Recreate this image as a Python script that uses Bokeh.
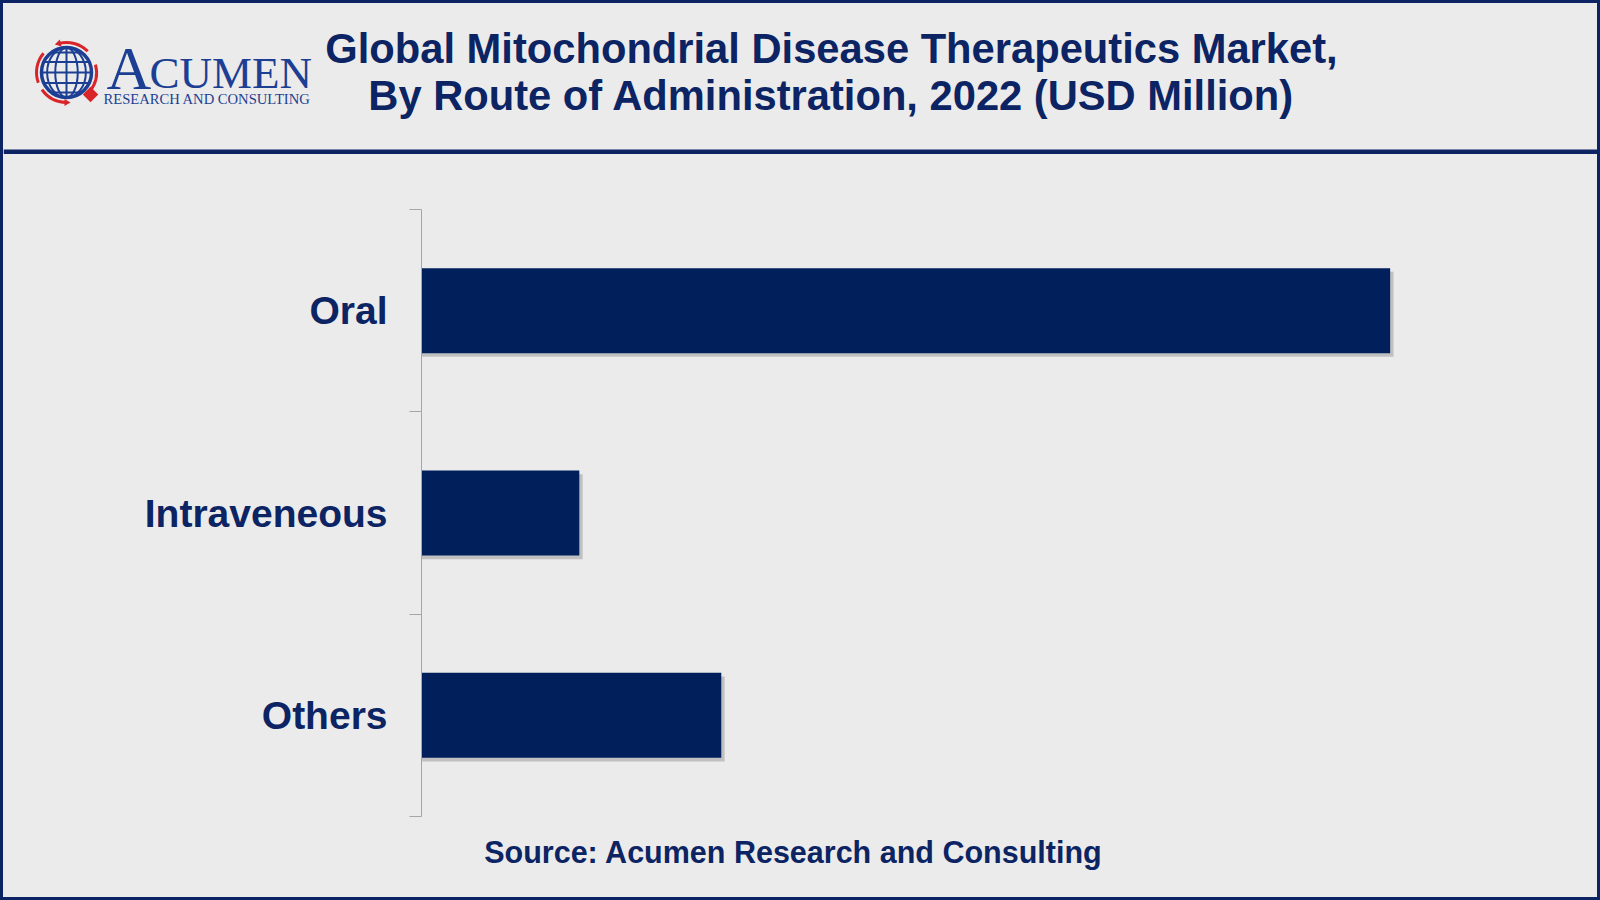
import math
from bokeh.plotting import figure
from bokeh.layouts import column, row
from bokeh.models import Range1d, FixedTicker, ColumnDataSource
from bokeh.core.properties import value
from bokeh.embed import file_html
from bokeh.resources import INLINE

# ---------------- data ----------------
title_lines = ["Global Mitochondrial Disease Therapeutics Market,",
               "By Route of Administration, 2022 (USD Million)"]
categories = ["Oral", "Intraveneous", "Others"]
values_usd_mn = [1160, 189, 359]
source_text = "Source: Acumen Research and Consulting"
logo_initial = "A"
logo_rest = "CUMEN"
logo_tagline = "RESEARCH AND CONSULTING"

# ---------------- styles ----------------
BG = "#EBEBEB"
NAVY = "#0C2463"
BAR = "#001F5B"
LOGO_BLUE = "#1C3F94"
RED = "#D9252A"
BORDER = "#0D2464"
W = 1594
H_HEAD, H_CHART, H_FOOT = 151, 672, 71
X_END = 1364


def blank(height, yr):
    f = figure(width=W, height=height, x_range=Range1d(0, W), y_range=Range1d(0, yr),
               output_backend="svg", toolbar_location=None,
               x_axis_location=None, y_axis_location=None, min_border=0,
               background_fill_color=BG, border_fill_color=BG, outline_line_color=None)
    f.grid.visible = False
    return f


# ---------------- header ----------------
header = blank(H_HEAD, H_HEAD)
header.quad(left=[0], right=[W], bottom=[0], top=[5], fill_color=BORDER, line_color=None)

# logo globe
gx, gy, gr = 63, 82, 25
header.ellipse(x=[gx], y=[gy], width=[2 * gr], height=[2 * gr], fill_color=None,
               line_color=LOGO_BLUE, line_width=3.5)
header.ellipse(x=[gx, gx], y=[gy, gy], width=[gr * 0.9, gr * 1.55], height=[2 * gr, 2 * gr],
               fill_color=None, line_color=LOGO_BLUE, line_width=2)
header.segment(x0=[gx], y0=[gy - gr], x1=[gx], y1=[gy + gr], line_color=LOGO_BLUE, line_width=2)
lat = [-0.8, -0.42, 0.0, 0.42, 0.8]
header.segment(x0=[gx - gr * math.sqrt(1 - f * f) for f in lat], y0=[gy + gr * f for f in lat],
               x1=[gx + gr * math.sqrt(1 - f * f) for f in lat], y1=[gy + gr * f for f in lat],
               line_color=LOGO_BLUE, line_width=2)
arcs_s = [math.radians(a) for a in [45, 140, 215, -40]]
arcs_e = [math.radians(a) for a in [105, 200, 270, 15]]
header.arc(x=[gx] * 4, y=[gy] * 4, radius=30, start_angle=arcs_s, end_angle=arcs_e,
           line_color=RED, line_width=3)
header.scatter(x=[gx + 30 * math.cos(a) for a in [math.radians(105), math.radians(270)]],
               y=[gy + 30 * math.sin(a) for a in [math.radians(105), math.radians(270)]],
               marker="triangle", size=7, angle=[math.radians(105), math.radians(270)],
               fill_color=RED, line_color=None)
header.scatter(x=[87], y=[60], marker="square", size=11, angle=math.pi / 4,
               fill_color=RED, line_color=None)

header.text(x=[103], y=[86.5], text=[logo_initial], text_font=value("Liberation Serif"),
            text_font_size="62px", text_color=LOGO_BLUE, text_baseline="middle")
header.text(x=[146], y=[81.3], text=[logo_rest], text_font=value("Liberation Serif"),
            text_font_size="45px", text_color=LOGO_BLUE, text_baseline="middle")
header.text(x=[100], y=[56], text=[logo_tagline], text_font=value("Liberation Serif"),
            text_font_size="14.6px", text_color=LOGO_BLUE, text_baseline="middle")

header.text(x=[828, 828], y=[106.4, 58.6], text=title_lines, text_font=value("Liberation Sans"),
            text_font_style="bold", text_font_size="41.7px", text_color=NAVY,
            text_align="center", text_baseline="middle")

# ---------------- chart ----------------
chart = figure(width=W, height=H_CHART, x_range=Range1d(0, X_END), y_range=Range1d(0, len(categories)),
               output_backend="svg", toolbar_location=None, x_axis_location=None,
               min_border_left=418, min_border_right=37, min_border_top=55, min_border_bottom=10,
               background_fill_color=BG, border_fill_color=BG, outline_line_color=None)
chart.grid.visible = False

n = len(categories)
ypos = [n - i - 0.5 for i in range(n)]
src = ColumnDataSource(dict(cat=categories, val=values_usd_mn, y=ypos,
                            ys=[y - 0.018 for y in ypos],
                            vs=[v + 4.0 for v in values_usd_mn]))
chart.hbar(y="ys", left=0, right="vs", height=0.42, source=src,
           fill_color="#707070", fill_alpha=0.35, line_color=None)
chart.hbar(y="y", left=0, right="val", height=0.42, source=src,
           fill_color=BAR, line_color=None)

ax = chart.yaxis[0]
ax.ticker = FixedTicker(ticks=ypos, minor_ticks=list(range(n + 1)))
ax.major_label_overrides = {y: c for y, c in zip(ypos, categories)}
ax.major_tick_out = 0
ax.major_tick_in = 0
ax.minor_tick_out = 12
ax.minor_tick_in = 0
ax.axis_line_color = "#A6A6A6"
ax.axis_line_width = 1
ax.minor_tick_line_color = "#A6A6A6"
ax.major_label_text_font = "Liberation Sans"
ax.major_label_text_font_style = "bold"
ax.major_label_text_font_size = "39px"
ax.major_label_text_color = NAVY
ax.major_label_standoff = 22

# ---------------- footer ----------------
footer = blank(H_FOOT, H_FOOT)
footer.text(x=[790], y=[45.5], text=[source_text], text_font=value("Liberation Sans"),
            text_font_style="bold", text_font_size="30.5px", text_color=NAVY,
            text_align="center", text_baseline="middle")

layout = column(row(header, spacing=0), row(chart, spacing=0), row(footer, spacing=0), spacing=0,
                styles={"border": "3px solid " + BORDER, "background-color": BG})

open("out.html", "w").write(file_html(layout, INLINE))
